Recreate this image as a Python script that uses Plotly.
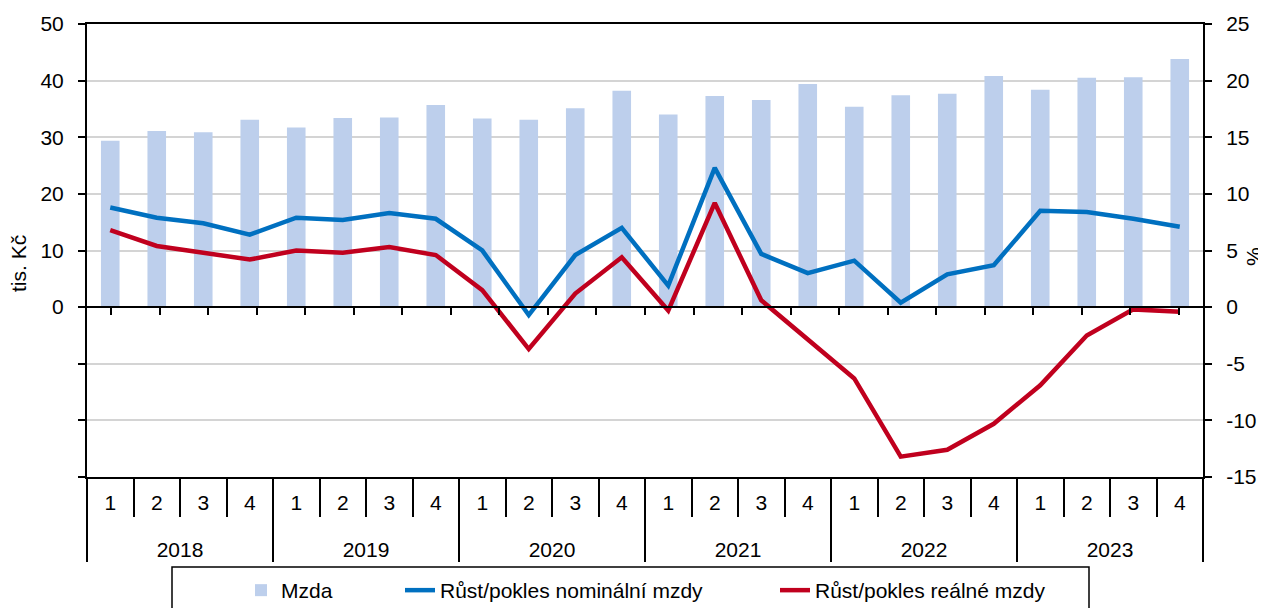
import plotly.graph_objects as go

years = ["2018", "2019", "2020", "2021", "2022", "2023"]
quarters = ["1", "2", "3", "4"]
mzda = [29.4, 31.1, 30.9, 33.1, 31.7, 33.4, 33.5, 35.7,
        33.3, 33.1, 35.1, 38.2, 34.0, 37.3, 36.6, 39.4,
        35.4, 37.4, 37.7, 40.8, 38.4, 40.5, 40.6, 43.8]
nominal = [8.8, 7.9, 7.4, 6.4, 7.9, 7.7, 8.3, 7.8,
           5.0, -0.7, 4.6, 7.0, 1.9, 12.3, 4.7, 3.0,
           4.1, 0.4, 2.9, 3.7, 8.5, 8.4, 7.8, 7.1]
real = [6.8, 5.4, 4.8, 4.2, 5.0, 4.8, 5.3, 4.6,
        1.5, -3.7, 1.2, 4.4, -0.3, 9.2, 0.6, -2.9,
        -6.3, -13.2, -12.6, -10.3, -6.9, -2.5, -0.2, -0.4]
left_ticks = [-30, -20, -10, 0, 10, 20, 30, 40, 50]
right_ticks = [-15, -10, -5, 0, 5, 10, 15, 20, 25]

# outer (year) labels sit one line lower, as in the original
x = [["<br>" + y for y in years for q in quarters], [q for y in years for q in quarters]]

FONT = "Liberation Sans, Arial, sans-serif"
FS = 21

# page is offset by the browser's 8px body margin
W, H = 1258, 600
L, T, R, B = 79, 16, 63, 131
PW = W - L - R
PH = H - T - B


def px(xpage):
    return (xpage - 8 - L) / PW


def py(ypage):
    return (T + PH - (ypage - 8)) / PH


fig = go.Figure()
fig.add_trace(go.Bar(x=x, y=mzda, name="Mzda", marker=dict(color="#BDCFEC", line=dict(width=0)),
                     legendwidth=114))
fig.add_trace(go.Scatter(x=x, y=nominal, name="Růst/pokles nominální mzdy", yaxis="y2",
                         mode="lines", line=dict(color="#0070C0", width=4.5), legendwidth=330))
fig.add_trace(go.Scatter(x=x, y=real, name="Růst/pokles reálné mzdy", yaxis="y2",
                         mode="lines", line=dict(color="#C0001E", width=4.5), legendwidth=250))
# helper trace for the zero-line category axis
fig.add_trace(go.Scatter(x=x, y=[None] * len(mzda), xaxis="x2", yaxis="y", showlegend=False,
                         hoverinfo="skip"))

fig.update_layout(
    width=W, height=H,
    margin=dict(l=L, r=R, t=T, b=B, autoexpand=False),
    paper_bgcolor="white", plot_bgcolor="white",
    font=dict(family=FONT, size=FS, color="black"),
    bargap=0.6,
    showlegend=True,
    legend=dict(orientation="h", x=px(241), xanchor="left", y=py(570), yanchor="top",
                font=dict(size=FS), bgcolor="rgba(0,0,0,0)", borderwidth=0, traceorder="normal"),
    xaxis=dict(type="multicategory", showline=True, linecolor="black", linewidth=2, mirror=True,
               ticks="outside", tickson="boundaries", ticklen=38, tickwidth=1.5, tickcolor="black",
               showdividers=True, dividercolor="black", dividerwidth=1.5, automargin=False,
               showgrid=False, tickfont=dict(size=FS), ticklabelstandoff=6),
    xaxis2=dict(type="multicategory", overlaying="x", anchor="free", position=0.375,
                showline=True, linecolor="black", linewidth=2, ticks="outside", tickson="boundaries",
                ticklen=7, tickwidth=1.5, tickcolor="black", showticklabels=False, automargin=False,
                showdividers=False, showgrid=False),
    yaxis=dict(range=[-30, 50], tickvals=left_ticks,
               ticktext=[str(v) if v >= 0 else "" for v in left_ticks],
               showline=True, linecolor="black", linewidth=2, ticks="outside", ticklen=7,
               tickwidth=1.5, tickcolor="black", showgrid=True, gridcolor="#D4D4D4", gridwidth=1.5,
               zeroline=False, ticklabelstandoff=10, automargin=False),
    yaxis2=dict(range=[-15, 25], tickvals=right_ticks, ticktext=[str(v) for v in right_ticks],
                overlaying="y", side="right", showline=True, linecolor="black", linewidth=2,
                ticks="outside", ticklen=7, tickwidth=1.5, tickcolor="black", showgrid=False,
                zeroline=False, ticklabelstandoff=10, automargin=False),
    shapes=[dict(type="rect", xref="paper", yref="paper",
                 x0=px(172), x1=px(1089), y0=py(640), y1=py(567),
                 line=dict(color="black", width=1.5), fillcolor="rgba(0,0,0,0)")],
    annotations=[
        dict(text="tis. Kč", xref="paper", yref="paper", x=px(18), y=py(264),
             showarrow=False, textangle=-90, font=dict(size=FS), xanchor="center", yanchor="middle"),
        dict(text="%", xref="paper", yref="paper", x=px(1254), y=py(257),
             showarrow=False, textangle=-90, font=dict(size=FS), xanchor="center", yanchor="middle"),
    ],
)

fig.write_html("out.html")
